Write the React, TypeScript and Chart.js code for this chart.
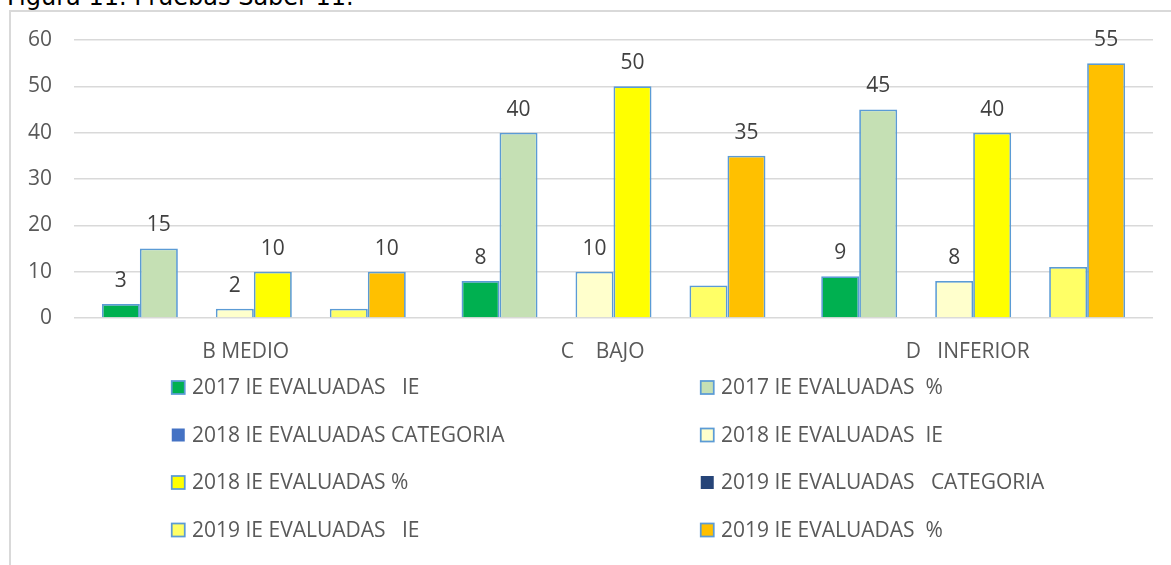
import React, { useEffect, useRef } from "react";
import { Chart, registerables } from "chart.js";

Chart.register(...registerables);

const categories = ["B MEDIO   ", "C    BAJO    ", "D   INFERIOR  "];

const seriesLabels = [
  "2017 IE EVALUADAS   IE",
  "2017 IE EVALUADAS  %",
  "2018 IE EVALUADAS CATEGORIA",
  "2018 IE EVALUADAS  IE",
  "2018 IE EVALUADAS %",
  "2019 IE EVALUADAS   CATEGORIA",
  "2019 IE EVALUADAS   IE",
  "2019 IE EVALUADAS  %",
];

const ie2017 = [3, 8, 9];
const pct2017 = [15, 40, 45];
const cat2018: (number | null)[] = [null, null, null];
const ie2018 = [2, 10, 8];
const pct2018 = [10, 50, 40];
const cat2019: (number | null)[] = [null, null, null];
const ie2019 = [2, 7, 11];
const pct2019 = [10, 35, 55];

const seriesValues = [ie2017, pct2017, cat2018, ie2018, pct2018, cat2019, ie2019, pct2019];
const seriesColors = ["#00b050", "#c5e0b4", "#4472c4", "#ffffcc", "#ffff00", "#264478", "#ffff66", "#ffc000"];
const seriesHasBorder = [true, true, false, true, true, false, true, true];
const seriesShowValue = [true, true, false, true, true, false, false, true];

const yTicks = [0, 10, 20, 30, 40, 50, 60];

const FONT = "'Open Sans', 'Noto Sans', sans-serif";
const FS = 21;
const TEXT = "#595959";
const BORDER = "#5b9bd5";

const valueLabelPlugin = {
  id: "valueLabels",
  afterDatasetsDraw(chart: any) {
    const ctx = chart.ctx;
    ctx.save();
    ctx.font = `${FS}px ${FONT}`;
    ctx.fillStyle = "#404040";
    ctx.textAlign = "center";
    ctx.textBaseline = "middle";
    chart.data.datasets.forEach((ds: any, i: number) => {
      if (!seriesShowValue[i]) return;
      const meta = chart.getDatasetMeta(i);
      meta.data.forEach((bar: any, j: number) => {
        const v = ds.data[j];
        if (v == null) return;
        ctx.fillText(String(v), bar.x, bar.y - 23);
      });
    });
    ctx.restore();
  },
};

const legendPlugin = {
  id: "customLegend",
  afterDraw(chart: any) {
    const ctx = chart.ctx;
    const colX = [171, 700];
    const firstRowY = 387.5;
    const rowGap = 47.5;
    const box = 13;
    ctx.save();
    ctx.font = `${FS}px ${FONT}`;
    ctx.textAlign = "left";
    ctx.textBaseline = "middle";
    chart.data.datasets.forEach((ds: any, i: number) => {
      const col = i % 2;
      const row = Math.floor(i / 2);
      const x = colX[col];
      const y = firstRowY + row * rowGap;
      ctx.fillStyle = ds.backgroundColor;
      ctx.fillRect(x + 0.75, y - box / 2, box, box);
      if (seriesHasBorder[i]) {
        ctx.strokeStyle = BORDER;
        ctx.lineWidth = 1.75;
        ctx.strokeRect(x + 0.75, y - box / 2, box, box);
      }
      ctx.fillStyle = TEXT;
      ctx.fillText(ds.label, x + 21, y + 1);
    });
    ctx.restore();
  },
};

export default function App() {
  const canvasRef = useRef<HTMLCanvasElement | null>(null);

  useEffect(() => {
    if (!canvasRef.current) return;
    const chart = new Chart(canvasRef.current, {
      type: "bar",
      data: {
        labels: categories,
        datasets: seriesLabels.map((label, i) => ({
          label,
          data: seriesValues[i],
          backgroundColor: seriesColors[i],
          borderColor: BORDER,
          borderWidth: seriesHasBorder[i] ? 1.75 : 0,
          categoryPercentage: 0.845,
          barPercentage: 1.0,
        })),
      },
      options: {
        animation: false,
        responsive: true,
        maintainAspectRatio: false,
        layout: { padding: { left: 0, right: 18, top: 40, bottom: 0 } },
        plugins: {
          legend: { display: false },
          tooltip: { enabled: false },
          title: { display: false },
        },
        scales: {
          x: {
            grid: { display: false },
            border: { display: false },
            ticks: { font: { family: FONT, size: FS }, color: TEXT, padding: 13, autoSkip: false, maxRotation: 0 },
            afterFit: (s: any) => {
              s.height = 247;
            },
          },
          y: {
            min: yTicks[0],
            max: yTicks[yTicks.length - 1],
            afterBuildTicks: (s: any) => {
              s.ticks = yTicks.map((v) => ({ value: v }));
            },
            grid: { color: "#d9d9d9", lineWidth: 1.5, drawTicks: false },
            border: { display: false },
            ticks: { font: { family: FONT, size: FS }, color: TEXT, padding: 22 },
            afterFit: (s: any) => {
              s.width = 74;
            },
          },
        },
      },
      plugins: [valueLabelPlugin, legendPlugin],
    });
    return () => chart.destroy();
  }, []);

  return (
    <div style={{ position: "absolute", left: 0, top: 0, width: 1171, height: 565, overflow: "hidden", background: "#fff" }}>
      <div
        style={{
          position: "absolute",
          left: 7,
          top: -15,
          fontFamily: "'DejaVu Sans', sans-serif",
          fontSize: 24,
          lineHeight: "24px",
          whiteSpace: "pre",
          color: "#000",
        }}
      >
        Figura 11. Pruebas Saber 11.
      </div>
      <div
        style={{
          position: "absolute",
          left: 9,
          top: 10,
          width: 1220,
          height: 620,
          border: "2px solid #d9d9d9",
        }}
      />
      <div style={{ position: "absolute", left: 0, top: 0, width: 1171, height: 565 }}>
        <canvas ref={canvasRef} />
      </div>
    </div>
  );
}
